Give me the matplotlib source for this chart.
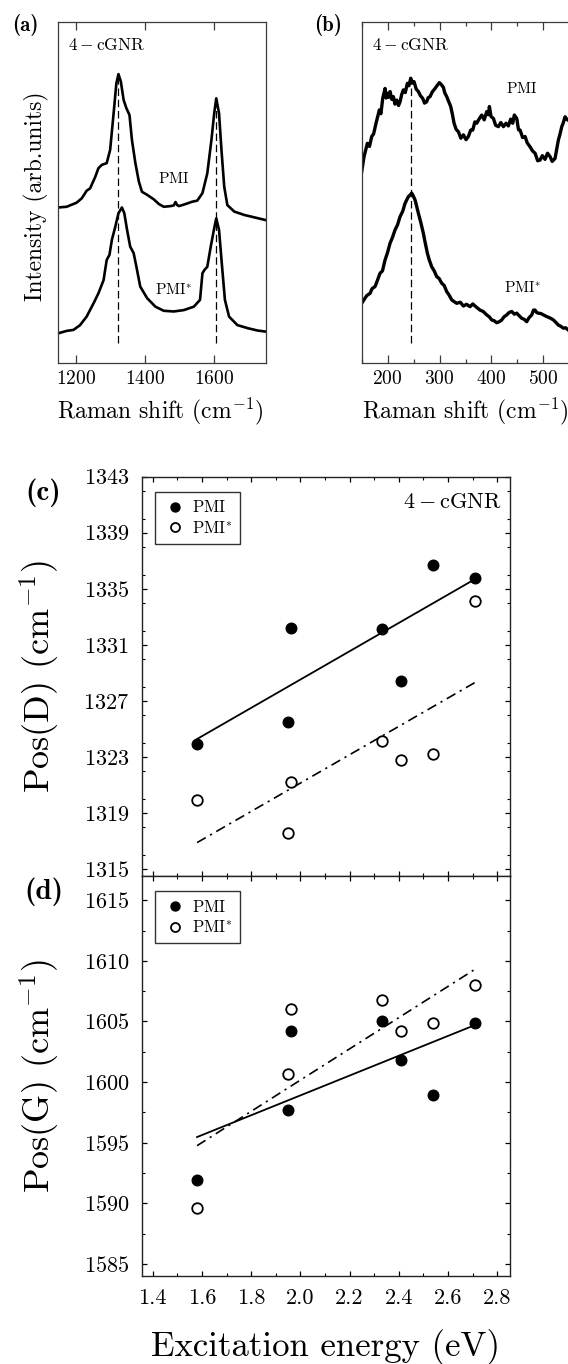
import numpy as np
import matplotlib
matplotlib.use("Agg")
import matplotlib.pyplot as plt
from matplotlib.ticker import MultipleLocator

plt.rcParams['font.family'] = 'serif'
plt.rcParams['font.serif'] = ['cmr10']
plt.rcParams['mathtext.fontset'] = 'cm'
plt.rcParams['axes.formatter.use_mathtext'] = True
plt.rcParams['axes.unicode_minus'] = False

# ---------------- data: panel (a) spectra (Raman shift, intensity arb.) ----------------
a_pmi_x = [1150, 1174, 1203, 1218, 1232, 1242, 1257, 1266, 1276, 1290, 1300, 1310, 1318,
           1324, 1331, 1339, 1347, 1356, 1363, 1373, 1383, 1392, 1407, 1426, 1441, 1455,
           1475, 1484, 1489, 1494, 1499, 1518, 1538, 1552, 1567, 1581, 1593, 1601, 1607,
           1615, 1622, 1630, 1639, 1659, 1688, 1717, 1750]
a_pmi_y = [45.7, 45.9, 47.1, 48.4, 50.6, 51.3, 54.7, 57.2, 58.2, 58.7, 62.6, 73.3, 82.1,
           84.8, 82.6, 77.2, 74.8, 72.8, 65.5, 58.7, 53.3, 50.3, 49.4, 48.1, 46.7, 45.9,
           46.1, 46.3, 47.3, 46.4, 46.1, 46.7, 47.4, 47.7, 49.9, 55.7, 65.5, 73.3, 77.7,
           73.3, 62.6, 51.8, 46.4, 44.5, 43.5, 42.8, 42.0]

a_pmis_x = [1150, 1174, 1194, 1213, 1232, 1252, 1266, 1281, 1290, 1298, 1305, 1315, 1324,
            1334, 1341, 1349, 1358, 1368, 1376, 1387, 1407, 1431, 1455, 1484, 1513, 1542,
            1560, 1567, 1573, 1581, 1591, 1601, 1607, 1615, 1623, 1632, 1644, 1668, 1698,
            1727, 1750]
a_pmis_y = [8.8, 9.5, 9.8, 11.2, 13.7, 17.6, 20.5, 24.4, 30.3, 31.8, 36.2, 40.1, 44.0,
            45.7, 44.0, 39.1, 34.2, 32.3, 28.3, 22.5, 19.1, 16.6, 15.4, 15.2, 15.6, 16.6,
            18.6, 26.4, 27.4, 28.3, 34.2, 39.6, 42.5, 39.1, 29.3, 18.6, 13.7, 11.2, 10.3,
            9.6, 9.3]

a_peaks = [1324, 1607]
a_peak_tops = [84.1, 77.2]

# ---------------- data: panel (b) low-frequency spectra ----------------
b_pmi_x = [150.0, 154.5, 160.9, 165.0, 169.3, 173.0, 177.6, 184.0, 187.0, 190.5, 193.0,
           195.0, 197.0, 199.5, 202.0, 204.6, 208.0, 211.0, 214.0, 217.4, 221.0, 223.9,
           227.0, 230.3, 234.0, 238.0, 241.0, 244.4, 248.0, 250.8, 255.0, 259.2, 263.0,
           267.5, 271.0, 275.2, 278.0, 281.7, 286.0, 291.3, 295.0, 299.6, 303.0, 307.4,
           310.0, 313.8, 318.0, 321.5, 325.0, 327.9, 332.0, 336.3, 341.0, 345.9, 351.0,
           355.5, 360.0, 363.9, 368.0, 371.6, 376.0, 381.2, 386.0, 390.8, 394.0, 396.0,
           399.0, 403.7, 408.0, 413.3, 418.0, 423.0, 428.0, 432.6, 437.0, 440.9, 444.0,
           448.7, 452.0, 455.1, 460.0, 464.7, 469.0, 474.3, 479.0, 484.0, 489.0, 493.6,
           498.0, 503.2, 508.0, 512.9, 517.0, 522.5, 526.0, 528.9, 532.0, 535.4, 538.0,
           541.8, 545.0, 547.6]
b_pmi_y = [56.2, 60.6, 64.5, 63.6, 66.5, 67.3, 70.4, 74.3, 73.2, 77.7, 79.3,
           80.6, 77.8, 79.2, 78.0, 79.7, 77.4, 78.2, 76.0, 77.2, 75.6, 76.7,
           78.8, 80.2, 79.4, 82.1, 81.4, 83.6, 82.2, 82.6, 80.4, 79.7, 78.5,
           77.7, 76.3, 76.7, 77.9, 78.2, 79.6, 80.6, 81.4, 82.3, 81.8, 80.9,
           79.3, 78.2, 76.6, 75.3, 72.8, 70.4, 68.6, 67.9, 66.0, 67.0, 65.6,
           66.5, 68.4, 68.4, 70.8, 70.4, 71.6, 72.8, 71.4, 73.8, 72.9, 75.3,
           72.4, 71.8, 69.8, 69.4, 70.6, 69.4, 70.4, 69.6, 71.6, 70.4, 72.8,
           71.8, 68.5, 68.4, 66.2, 66.5, 64.6, 63.5, 62.3, 61.6, 59.4, 59.6,
           60.9, 59.8, 61.6, 60.6, 59.2, 60.1, 63.1, 65.5, 67.2, 69.4, 70.4,
           72.3, 71.6, 71.3]

b_pmis_x = [150.0, 156.4, 160.0, 166.1, 170.0, 175.7, 180.0, 185.3, 190.0, 195.0, 200.0,
            204.6, 209.0, 214.2, 219.0, 223.9, 229.0, 233.5, 239.9, 243.0, 246.3, 249.0,
            252.8, 259.2, 264.0, 268.8, 272.0, 276.5, 280.0, 284.9, 290.0, 294.5, 299.0,
            304.1, 309.0, 313.8, 318.0, 323.4, 328.0, 333.0, 340.0, 345.9, 352.0, 358.7,
            364.0, 368.4, 373.0, 378.0, 384.0, 390.8, 396.0, 400.5, 405.0, 410.1, 415.0,
            419.7, 424.0, 429.4, 434.0, 439.0, 444.0, 448.7, 453.0, 458.3, 463.0, 467.9,
            472.0, 477.6, 481.0, 484.0, 487.0, 490.4, 495.0, 500.0, 505.0, 509.6, 514.0,
            519.3, 524.0, 528.9, 533.0, 538.6, 543.0, 547.6]
b_pmis_y = [17.6, 19.1, 19.9, 20.5, 21.9, 22.5, 24.2, 26.4, 27.1, 30.3, 32.6,
            35.2, 36.8, 39.1, 40.6, 43.0, 44.6, 46.9, 48.9, 49.3, 49.9, 49.2,
            47.9, 44.0, 41.2, 38.1, 35.6, 32.3, 30.4, 28.3, 27.0, 25.4, 24.9,
            23.5, 22.8, 21.0, 20.1, 18.6, 18.1, 17.6, 17.9, 16.8, 17.3, 16.6,
            17.4, 16.8, 16.2, 15.6, 15.2, 14.2, 13.6, 12.7, 12.5, 11.9, 12.2,
            12.7, 13.6, 14.2, 14.9, 15.2, 14.4, 14.7, 14.0, 13.2, 12.9, 12.2,
            13.3, 14.2, 15.6, 15.6, 14.9, 14.7, 14.6, 14.2, 13.8, 13.5, 13.2,
            12.7, 12.0, 11.2, 10.9, 10.3, 10.4, 9.8]

b_peaks = [244.4]
b_peak_tops = [83.1]
peak_line_bottom = 5.9

# ---------------- data: panels (c), (d) ----------------
energy = [1.58, 1.95, 1.96, 2.33, 2.41, 2.54, 2.71]
posD_pmi = [1323.9, 1325.5, 1332.2, 1332.1, 1328.4, 1336.7, 1335.8]
posD_pmis = [1319.9, 1317.6, 1321.2, 1324.1, 1322.8, 1323.2, 1334.1]
posG_pmi = [1591.9, 1597.7, 1604.2, 1605.0, 1601.8, 1598.9, 1604.9]
posG_pmis = [1589.6, 1600.7, 1606.0, 1606.8, 1604.2, 1604.9, 1608.0]

FIG_W, FIG_H = 568, 1364
fig = plt.figure(figsize=(FIG_W / 100, FIG_H / 100), dpi=100)

def frac(l, t, r, b):
    return [l / FIG_W, 1 - b / FIG_H, (r - l) / FIG_W, (b - t) / FIG_H]

spine_col = '#3a3a3a'
lbl_top = 17
tick_top = 14

# ---------------- panel (a) ----------------
ax_a = fig.add_axes(frac(58.3, 22.3, 265.7, 363.3))
ax_a.plot(a_pmi_x, a_pmi_y, color='black', lw=1.9, solid_joinstyle='round')
ax_a.plot(a_pmis_x, a_pmis_y, color='black', lw=1.9, solid_joinstyle='round')
for xp, yt in zip(a_peaks, a_peak_tops):
    ax_a.plot([xp, xp], [peak_line_bottom, yt], color='black', lw=0.9, ls=(0, (6, 3)))
ax_a.set_xlim(1150, 1750)
ax_a.set_ylim(0, 100)
ax_a.set_yticks([])
ax_a.set_xticks([1200, 1400, 1600])
ax_a.tick_params(axis='x', which='major', direction='in', top=True, bottom=True,
                 length=5.5, width=0.9, labelsize=tick_top, pad=5, color=spine_col)
ax_a.set_xlabel(r'Raman shift (cm$^{-1}$)', fontsize=lbl_top, va='center')
ax_a.xaxis.set_label_coords(0.494, -0.142)
ax_a.set_ylabel('Intensity (arb.units)', fontsize=lbl_top, va='center')
ax_a.yaxis.set_label_coords(-0.104, 0.49)
ax_a.text(1179, 93.3, r'$4-\mathrm{cGNR}$', fontsize=12.5, ha='left', va='center')
ax_a.text(1483, 54.3, r'$\mathrm{PMI}$', fontsize=11, ha='center', va='center')
ax_a.text(1483, 21.5, r'$\mathrm{PMI}^{*}$', fontsize=11, ha='center', va='center')
for s in ax_a.spines.values():
    s.set_linewidth(0.9)
    s.set_color(spine_col)

# ---------------- panel (b) ----------------
ax_b = fig.add_axes(frac(361.7, 22.3, 595.3, 363.3))
ax_b.plot(b_pmi_x, b_pmi_y, color='black', lw=2.4, solid_joinstyle='round')
ax_b.plot(b_pmis_x, b_pmis_y, color='black', lw=2.4, solid_joinstyle='round')
for xp, yt in zip(b_peaks, b_peak_tops):
    ax_b.plot([xp, xp], [peak_line_bottom, yt], color='black', lw=0.9, ls=(0, (6, 3)))
ax_b.set_xlim(150, 600)
ax_b.set_ylim(0, 100)
ax_b.set_yticks([])
ax_b.xaxis.set_minor_locator(MultipleLocator(50))
ax_b.set_xticks([200, 300, 400, 500])
ax_b.tick_params(axis='x', which='major', direction='in', top=True, bottom=True,
                 length=5.5, width=0.9, labelsize=tick_top, pad=5, color=spine_col)
ax_b.tick_params(axis='x', which='minor', direction='in', top=True, bottom=True,
                 length=2.8, width=0.9, color=spine_col)
ax_b.set_xlabel(r'Raman shift (cm$^{-1}$)', fontsize=lbl_top, va='center')
ax_b.xaxis.set_label_coords(0.442, -0.142)
ax_b.text(169.3, 93.3, r'$4-\mathrm{cGNR}$', fontsize=12.5, ha='left', va='center')
ax_b.text(458, 80.7, r'$\mathrm{PMI}$', fontsize=11, ha='center', va='center')
ax_b.text(460, 22.1, r'$\mathrm{PMI}^{*}$', fontsize=11, ha='center', va='center')
for s in ax_b.spines.values():
    s.set_linewidth(0.9)
    s.set_color(spine_col)

fig.text(25 / FIG_W, 1 - 25 / FIG_H, '(a)', family='cmb10', fontsize=15, ha='center', va='center')
fig.text(328 / FIG_W, 1 - 25 / FIG_H, '(b)', family='cmb10', fontsize=15, ha='center', va='center')

# ---------------- panels (c), (d) ----------------
ax_c = fig.add_axes(frac(141.7, 476.7, 510, 876))
ax_d = fig.add_axes(frac(141.7, 876, 510, 1276), sharex=ax_c)

ms = 7.6
for ax, yp, ys in [(ax_c, posD_pmi, posD_pmis), (ax_d, posG_pmi, posG_pmis)]:
    ax.plot(energy, yp, 'o', color='black', ms=ms, ls='none', label=r'$\mathrm{PMI}$', zorder=3)
    ax.plot(energy, ys, 'o', mfc='white', mec='black', mew=1.3, ms=ms, ls='none',
            label=r'$\mathrm{PMI}^{*}$', zorder=3)
    xs = np.array([min(energy), max(energy)])
    k1, b1 = np.polyfit(energy, yp, 1)
    k2, b2 = np.polyfit(energy, ys, 1)
    ax.plot(xs, k1 * xs + b1, color='black', lw=1.3, zorder=2)
    ax.plot(xs, k2 * xs + b2, color='black', lw=1.2, ls=(0, (6, 3, 1.3, 3)), zorder=2)
    leg = ax.legend(loc='upper left', bbox_to_anchor=(0.036, 0.962), borderaxespad=0,
                    fontsize=12, frameon=True, fancybox=False, edgecolor='black',
                    handlelength=1.5, handletextpad=0.25, borderpad=0.45, labelspacing=0.25,
                    markerscale=0.85)
    leg.get_frame().set_linewidth(1.0)
    ax.tick_params(axis='both', which='major', direction='in', top=True, right=True,
                   length=3.8, width=0.9, labelsize=16, pad=9)
    ax.tick_params(axis='both', which='minor', direction='in', top=True, right=True,
                   length=2.2, width=0.8)
    for s in ax.spines.values():
        s.set_linewidth(1.0)
        s.set_color('#222222')

ax_c.set_xlim(1.355, 2.852)
ax_c.xaxis.set_major_locator(MultipleLocator(0.2))
ax_c.xaxis.set_minor_locator(MultipleLocator(0.1))
ax_c.tick_params(axis='x', labelbottom=False)

ax_c.set_ylim(1314.5, 1343)
ax_c.set_yticks(np.arange(1315, 1344, 4))
ax_c.yaxis.set_minor_locator(MultipleLocator(2))
ax_d.set_ylim(1584, 1617)
ax_d.set_yticks(np.arange(1585, 1616, 5))
ax_d.yaxis.set_minor_locator(MultipleLocator(2.5))
ax_d.xaxis.set_major_formatter(matplotlib.ticker.FormatStrFormatter('%.1f'))

ax_c.set_ylabel(r'Pos(D) (cm$^{-1}$)', fontsize=26, va='center')
ax_c.yaxis.set_label_coords(-0.276, 0.5)
ax_d.set_ylabel(r'Pos(G) (cm$^{-1}$)', fontsize=26, va='center')
ax_d.yaxis.set_label_coords(-0.276, 0.5)
ax_d.set_xlabel('Excitation energy (eV)', fontsize=25, va='center')
ax_d.xaxis.set_label_coords(0.4996, -0.177)

ax_c.text(0.9756, 0.9366, r'$4-\mathrm{cGNR}$', transform=ax_c.transAxes, fontsize=16,
          ha='right', va='center')

fig.text(43.5 / FIG_W, 1 - 493 / FIG_H, '(c)', family='cmb10', fontsize=21, ha='center', va='center')
fig.text(44 / FIG_W, 1 - 892 / FIG_H, '(d)', family='cmb10', fontsize=21, ha='center', va='center')

fig.savefig('out.png', dpi=100)
